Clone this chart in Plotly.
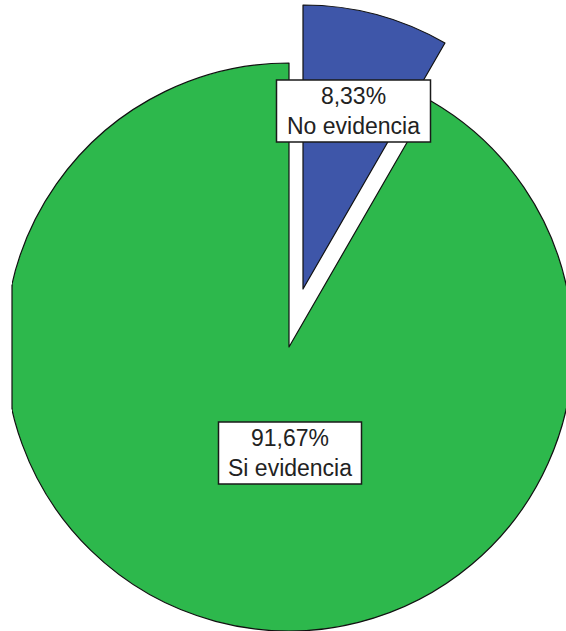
import plotly.graph_objects as go

# ---- data ----
labels = ["No evidencia", "Si evidencia"]
values = [8.33, 91.67]
pct_labels = ["8,33%", "91,67%"]
colors = ["#3e56a9", "#2db84c"]

# ---- geometry (pixels) ----
W, H = 600, 631
R = 284
green_center = (289, 347)
blue_center = (303, 289)   # pulled-out slice


def px_x(px):
    return px / W


def px_y(py):
    return 1 - py / H


def domain(c):
    return dict(
        x=[max(0.0, px_x(c[0] - R)), min(1.0, px_x(c[0] + R))],
        y=[max(0.0, px_y(c[1] + R)), min(1.0, px_y(c[1] - R))],
    )


clear = "rgba(0,0,0,0)"

fig = go.Figure()
# main pie (green part)
fig.add_trace(go.Pie(
    labels=labels, values=values, sort=False, direction="clockwise", rotation=0,
    marker=dict(colors=[clear, colors[1]], line=dict(color="#111111", width=[0, 1.2])),
    textinfo="none", hoverinfo="skip", showlegend=False, domain=domain(green_center),
))
# exploded slice (blue part)
fig.add_trace(go.Pie(
    labels=labels, values=values, sort=False, direction="clockwise", rotation=0,
    marker=dict(colors=[colors[0], clear], line=dict(color="#111111", width=[1.2, 0])),
    textinfo="none", hoverinfo="skip", showlegend=False, domain=domain(blue_center),
))

shapes = [
    # left clipping of the pie
    dict(type="rect", xref="paper", yref="paper", x0=-0.05, x1=px_x(12), y0=-0.05, y1=1.05,
         fillcolor="white", line=dict(width=0), layer="above"),
    dict(type="line", xref="paper", yref="paper", x0=px_x(12), x1=px_x(12),
         y0=px_y(284.5), y1=px_y(409.5), line=dict(color="#111111", width=1.2), layer="above"),
]

# label boxes: (x0, y0, x1, y1) in px
boxes = [(276.5, 80, 430.5, 142), (218.5, 422, 361.5, 484)]
annotations = []
for i, (x0, y0, x1, y1) in enumerate(boxes):
    shapes.append(dict(type="rect", xref="paper", yref="paper",
                       x0=px_x(x0), x1=px_x(x1), y0=px_y(y1), y1=px_y(y0),
                       fillcolor="white", line=dict(color="#1a1a1a", width=1.5), layer="above"))
    cx = (x0 + x1) / 2
    cy = (y0 + y1) / 2
    annotations.append(dict(
        text=f"{pct_labels[i]}<br>{labels[i]}", xref="paper", yref="paper",
        x=px_x(cx), y=px_y(cy), xanchor="center", yanchor="middle", showarrow=False,
        align="center",
        font=dict(family="Liberation Sans, Arial, sans-serif", size=23, color="#222222"),
    ))

fig.update_layout(
    width=W, height=H, margin=dict(l=0, r=0, t=0, b=0, pad=0),
    paper_bgcolor="white", plot_bgcolor="white", showlegend=False,
    shapes=shapes, annotations=annotations,
)

fig.write_html(
    "out.html",
    config={"displayModeBar": False},
    post_script="document.body.style.margin='0';document.body.style.overflow='hidden';"
                "document.documentElement.style.overflow='hidden';",
)
